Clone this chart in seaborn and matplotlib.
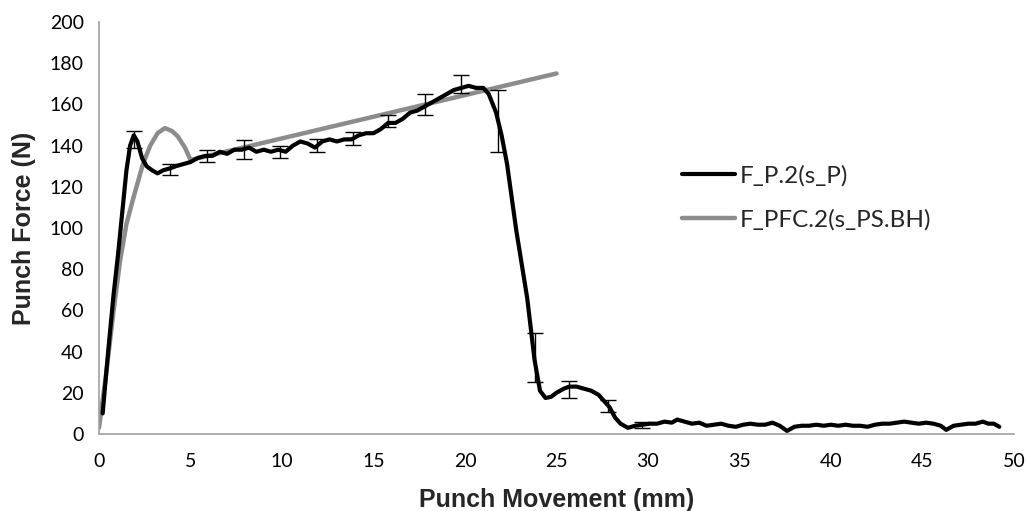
import matplotlib
matplotlib.use("Agg")
import matplotlib.pyplot as plt
import seaborn as sns
import pandas as pd

# Measured punch force F_P.2 versus punch movement s_P
punch_x = [0.2, 0.5, 0.8, 1.05, 1.3, 1.5, 1.7, 1.9, 2.1, 2.35, 2.6, 2.9, 3.2, 3.5, 3.9,
           4.2, 4.6, 5.0, 5.4, 5.8, 6.2, 6.6, 7.0, 7.4, 7.8, 8.2, 8.6, 9.0, 9.4, 9.8,
           10.2, 10.6, 11.0, 11.4, 11.8, 12.2, 12.6, 13.0, 13.4, 13.8, 14.2, 14.6, 15.0,
           15.4, 15.8, 16.2, 16.6, 17.0, 17.4, 17.8, 18.2, 18.6, 19.0, 19.4, 19.8, 20.2,
           20.6, 21.0, 21.3, 21.7, 22.0, 22.3, 22.8, 23.4, 23.8, 24.1, 24.4, 24.7, 25.0,
           25.4, 25.7, 26.1, 26.5, 26.9, 27.3, 27.6, 27.9, 28.2, 28.5, 28.9, 29.3, 29.7,
           30.1, 30.5, 30.9, 31.3, 31.6, 32.0, 32.4, 32.8, 33.2, 33.6, 34.0, 34.4, 34.8,
           35.2, 35.6, 36.0, 36.4, 36.8, 37.2, 37.6, 38.0, 38.4, 38.8, 39.2, 39.6, 40.0,
           40.4, 40.8, 41.2, 41.6, 42.0, 42.4, 42.8, 43.2, 43.6, 44.0, 44.4, 44.8, 45.2,
           45.6, 46.0, 46.3, 46.7, 47.1, 47.5, 47.9, 48.3, 48.6, 48.9, 49.2]
punch_force = [10, 40, 68, 88, 110, 128, 140, 145, 142, 134, 130, 128, 126.5, 128, 129,
               130, 131, 132, 134, 135, 135, 137, 136, 138, 138, 139, 137, 138, 137, 138,
               137, 140, 142, 141, 139, 142, 143, 142, 143, 143, 145, 146, 146,
               148, 151, 151, 153, 156, 157, 159, 161, 163, 165, 167, 168, 169,
               168, 168, 165, 156, 145, 131, 99, 66, 36, 21, 17.5, 18, 20,
               22, 23, 23, 22, 21, 19, 16, 13, 8, 5, 3, 4, 4.5,
               5, 5, 6, 5.5, 7, 6, 5, 5.5, 4, 4.5, 5, 4, 3.5,
               4.5, 5, 4.5, 4.5, 5.5, 4, 1.5, 3.5, 4, 4, 4.5, 4, 4.5,
               4, 4.5, 4, 4, 3.5, 4.5, 5, 5, 5.5, 6, 5.5, 5, 5.5,
               5, 4, 2, 4, 4.5, 5, 5, 6, 5, 5, 3.5]

# Model curve F_PFC.2 versus s_PS.BH
model_x = [0, 0.4, 0.8, 1.15, 1.5, 1.86, 2.4, 2.8, 3.2, 3.6, 4.0, 4.3, 4.7, 5.0, 25.0]
model_force = [3, 30, 60, 84, 102, 114, 131, 140, 146, 148.5, 147, 144.5, 139, 133, 175]

# Scatter band of the measurement (mean and half range)
err_x = [1.9, 3.9, 5.9, 7.9, 9.9, 11.9, 13.9, 15.8, 17.8, 19.8, 21.8, 23.8, 25.7, 27.8, 29.7]
err_mid = [143, 128.5, 135, 138, 137, 140, 143.5, 152, 160, 170, 152, 37, 21.6, 13.6, 4.5]
err_half = [4, 2.7, 3, 4.5, 3, 3, 3.3, 3, 5, 4.5, 15, 12, 4, 3, 1.5]

x_ticks = [0, 5, 10, 15, 20, 25, 30, 35, 40, 45, 50]
y_ticks = [0, 20, 40, 60, 80, 100, 120, 140, 160, 180, 200]

sns.set_style("white")
plt.rcParams["font.family"] = ["Lato", "DejaVu Sans"]

fig = plt.figure(figsize=(10.27, 5.11), dpi=100)
ax = fig.add_axes([0.0964, 0.1507, 0.8909, 0.8063])

df_p = pd.DataFrame({"s": punch_x, "F": punch_force})
df_m = pd.DataFrame({"s": model_x, "F": model_force})

sns.lineplot(data=df_p, x="s", y="F", ax=ax, color="black", linewidth=3.0,
             label="F_P.2(s_P)", sort=False, zorder=3)
sns.lineplot(data=df_m, x="s", y="F", ax=ax, color="#8c8c8c", linewidth=3.2,
             label="F_PFC.2(s_PS.BH)", sort=False, zorder=2)
ax.errorbar(err_x, err_mid, yerr=err_half, fmt="none", ecolor="black",
            elinewidth=1.0, capsize=6, capthick=1.0, zorder=4)

ax.set_xlim(0, 50)
ax.set_ylim(0, 200)
ax.set_xticks(x_ticks)
ax.set_yticks(y_ticks)
ax.tick_params(axis="both", labelsize=14, colors="#999999", length=5, width=1,
               direction="out", labelcolor="black", pad=6)
ax.tick_params(axis="x", pad=9)

for side in ("top", "right"):
    ax.spines[side].set_visible(False)
for side in ("left", "bottom"):
    ax.spines[side].set_color("#a0a0a0")
    ax.spines[side].set_linewidth(1.2)

ax.set_xlabel("Punch Movement (mm)", fontsize=18, fontweight="bold",
              family="Liberation Sans", labelpad=13)
ax.set_ylabel("Punch Force (N)", fontsize=18, fontweight="bold",
              family="Liberation Sans", labelpad=10)

leg = ax.legend(loc="upper left", bbox_to_anchor=(0.637, 0.653), frameon=False,
                fontsize=17.5, handlelength=2.18, handletextpad=0.2, labelspacing=0.92,
                borderpad=0, borderaxespad=0)
leg.get_lines()[1].set_linewidth(3.2)

fig.savefig("out.png", dpi=100)
